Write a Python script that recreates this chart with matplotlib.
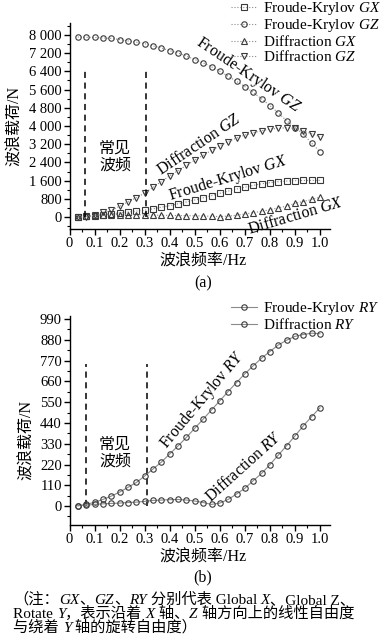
import matplotlib
matplotlib.use("Agg")
import matplotlib.pyplot as plt
from matplotlib.ticker import FixedLocator, MultipleLocator, FixedFormatter

plt.rcParams['font.family'] = ['Liberation Serif', 'Noto Sans CJK SC']
plt.rcParams['mathtext.fontset'] = 'custom'
plt.rcParams['mathtext.rm'] = 'Liberation Serif'
plt.rcParams['mathtext.it'] = 'Liberation Serif:italic'

# ---------------- data ----------------
freq = [0.033, 0.067, 0.100, 0.133, 0.167, 0.200, 0.233, 0.267, 0.300, 0.333,
        0.367, 0.400, 0.433, 0.467, 0.500, 0.533, 0.567, 0.600, 0.633, 0.667,
        0.700, 0.733, 0.767, 0.800, 0.833, 0.867, 0.900, 0.933, 0.967, 1.000]

fk_gx = [0, 30, 60, 100, 140, 180, 220, 260, 300, 360, 430, 500, 580, 660, 750,
         840, 940, 1040, 1140, 1230, 1310, 1390, 1460, 1510, 1550, 1580, 1595, 1605, 1610, 1610]
fk_gz = [7910, 7900, 7890, 7870, 7850, 7800, 7740, 7680, 7620, 7520, 7430, 7310, 7210, 7070, 6920,
         6780, 6600, 6410, 6190, 5960, 5730, 5480, 5190, 4900, 4580, 4230, 3930, 3650, 3240, 2870]
diff_gx = [0, 30, 70, 100, 110, 110, 110, 100, 90, 80, 75, 70, 65, 60, 55,
           45, 30, 20, 40, 80, 130, 190, 250, 320, 400, 480, 600, 680, 770, 870]
diff_gz = [0, 0, 70, 200, 290, 470, 660, 850, 1050, 1300, 1560, 1810, 2040, 2270, 2500,
           2710, 2930, 3130, 3310, 3470, 3600, 3700, 3790, 3860, 3900, 3920, 3900, 3780, 3660, 3530]

fk_ry = [2, 9, 20, 35, 53, 74, 99, 125, 159, 196, 233, 276, 318, 364, 412,
         459, 509, 557, 606, 654, 700, 742, 783, 818, 852, 878, 898, 908, 915, 912]
diff_ry = [2, 5, 9, 12, 14, 16, 19, 21, 25, 30, 32, 34, 35, 32, 27,
           19, 9, 16, 35, 64, 94, 134, 173, 219, 269, 320, 371, 424, 474, 520]

x_ticks = [0, 0.1, 0.2, 0.3, 0.4, 0.5, 0.6, 0.7, 0.8, 0.9, 1.0]
x_labels = ['0', '0.1', '0.2', '0.3', '0.4', '0.5', '0.6', '0.7', '0.8', '0.9', '1.0']
ya_ticks = [0, 800, 1600, 2400, 3200, 4000, 4800, 5600, 6400, 7200, 8000]
ya_labels = ['0', '800', '1 600', '2 400', '3 200', '4 000', '4 800', '5 600', '6 400', '7 200', '8 000']
yb_ticks = [0, 110, 220, 330, 440, 550, 660, 770, 880, 990]
yb_labels = ['0', '110', '220', '330', '440', '550', '660', '770', '880', '990']

band_a = [0.06, 0.305]
band_b = [0.065, 0.31]
band_a_top = 6400
band_b_top = 750

# ---------------- figure ----------------
W, H = 386, 641
fig = plt.figure(figsize=(W / 100, H / 100), dpi=100)

def fx(px):
    return px / W

def fy(py):
    return 1 - py / H

MC = '#3a3a3a'
LC = '#8a8a8a'
FS = 11.5
LFS = 11
TFS = 10.5

ax1 = fig.add_axes([fx(69.5), fy(229), 260.5 / W, 206 / H])
ax2 = fig.add_axes([fx(69.5), fy(525), 260.5 / W, 209 / H])

def style_axes(ax, yt, yl, yminor, ylim):
    ax.set_xlim(0, 1.04)
    ax.set_ylim(*ylim)
    for s in ['top', 'right']:
        ax.spines[s].set_visible(False)
    for s in ['left', 'bottom']:
        ax.spines[s].set_linewidth(1.0)
    ax.xaxis.set_major_locator(FixedLocator(x_ticks))
    ax.xaxis.set_major_formatter(FixedFormatter(x_labels))
    ax.xaxis.set_minor_locator(MultipleLocator(0.05))
    ax.yaxis.set_major_locator(FixedLocator(yt))
    ax.yaxis.set_major_formatter(FixedFormatter(yl))
    ax.yaxis.set_minor_locator(MultipleLocator(yminor))
    ax.tick_params(which='major', direction='out', length=4, width=1, labelsize=TFS, pad=1.5)
    ax.tick_params(which='minor', direction='out', length=2, width=0.8)
    ax.patch.set_alpha(0)

style_axes(ax1, ya_ticks, ya_labels, 400, (-527, 8527))
style_axes(ax2, yb_ticks, yb_labels, 55, (-100, 1006))

mk = dict(markersize=3.9, markeredgewidth=0.8, markerfacecolor='none', markeredgecolor=MC)
l1, = ax1.plot(freq, fk_gx, linestyle=':', color=LC, lw=0.8, marker='s', label='Froude-Krylov $GX$', **mk)
l2, = ax1.plot(freq, fk_gz, linestyle=':', color=LC, lw=0.8, marker='o', label='Froude-Krylov $GZ$', **mk)
l3, = ax1.plot(freq, diff_gx, linestyle=':', color=LC, lw=0.8, marker='^', label='Diffraction $GX$', **mk)
l4, = ax1.plot(freq, diff_gz, linestyle=':', color=LC, lw=0.8, marker='v', label='Diffraction $GZ$', **mk)

for xv in band_a:
    ax1.vlines(xv, 0, band_a_top, colors='black', linestyles=(0, (4, 3)), lw=1.1)
for xv in band_b:
    ax2.vlines(xv, 0, band_b_top, colors='black', linestyles=(0, (4, 3)), lw=1.1)

m1, = ax2.plot(freq, fk_ry, linestyle='-', color=LC, lw=0.8, marker='o', label='Froude-Krylov $RY$', **mk)
m2, = ax2.plot(freq, diff_ry, linestyle='-', color=LC, lw=0.8, marker='o', label='Diffraction $RY$', **mk)

leg_kw = dict(loc='upper left', frameon=False, fontsize=LFS, numpoints=1, handlelength=1.7,
              handletextpad=0.4, labelspacing=0.0, borderpad=0, borderaxespad=0,
              bbox_transform=fig.transFigure)
ax1.legend(handles=[l1, l2, l3, l4], bbox_to_anchor=(fx(231), fy(0)), **leg_kw)
ax2.legend(handles=[m1, m2], bbox_to_anchor=(fx(231), fy(300)), **leg_kw)

# in-plot labels (top)
ax1.text(0.713, 6242, 'Froude-Krylov $GZ$', rotation=-34, ha='center', va='center', fontsize=FS, rotation_mode='anchor')
ax1.text(0.517, 3165, 'Diffraction $GZ$', rotation=34, ha='center', va='center', fontsize=FS, rotation_mode='anchor')
ax1.text(0.633, 1714, 'Froude-Krylov $GX$', rotation=17, ha='center', va='center', fontsize=FS, rotation_mode='anchor')
ax1.text(0.904, 44, 'Diffraction $GX$', rotation=16.5, ha='center', va='center', fontsize=FS, rotation_mode='anchor', clip_on=False)
ax1.text(0.182, 2637, '常见\n波频', ha='center', va='center', fontsize=FS, linespacing=1.1)

# in-plot labels (bottom)
ax2.text(0.533, 561, 'Froude-Krylov $RY$', rotation=50, ha='center', va='center', fontsize=FS, rotation_mode='anchor')
ax2.text(0.697, 206, 'Diffraction $RY$', rotation=42, ha='center', va='center', fontsize=FS, rotation_mode='anchor')
ax2.text(0.182, 280, '常见\n波频', ha='center', va='center', fontsize=FS, linespacing=1.1)

# axis labels and captions
fig.text(fx(15), fy(126), '波浪载荷/N', rotation=90, ha='center', va='center', fontsize=FS)
fig.text(fx(203), fy(262), '波浪频率/Hz', ha='center', va='center', fontsize=FS)
fig.text(fx(203), fy(283), '(a)', ha='center', va='center', fontsize=FS)

fig.text(fx(27), fy(440), '波浪载荷/N', rotation=90, ha='center', va='center', fontsize=FS)
fig.text(fx(203), fy(558), '波浪频率/Hz', ha='center', va='center', fontsize=FS)
fig.text(fx(203), fy(577), '(b)', ha='center', va='center', fontsize=FS)

# footnote with mixed upright / italic runs
note_lines = [
    [('（注：', 0), ('GX', 1), ('、', 0), ('GZ', 1), ('、', 0), ('RY', 1), (' 分别代表 Global ', 0), ('X', 1), ('、Global Z、', 0)],
    [('Rotate ', 0), ('Y', 1), ('，表示沿着 ', 0), ('X', 1), (' 轴、', 0), ('Z', 1), (' 轴方向上的线性自由度', 0)],
    [('与绕着 ', 0), ('Y', 1), (' 轴的旋转自由度）', 0)],
]
note_base = [604, 618, 632]
NFS = 11

renderer = fig.canvas.get_renderer()

def text_width(s, italic):
    kw = dict(fontsize=NFS, style='italic' if italic else 'normal')
    t1 = fig.text(0, 0, '|' + s + '|', **kw)
    t2 = fig.text(0, 0, '||', **kw)
    w = t1.get_window_extent(renderer).width - t2.get_window_extent(renderer).width
    t1.remove()
    t2.remove()
    return w

for line, base in zip(note_lines, note_base):
    xpos = 13.0
    for s, it in line:
        fig.text(fx(xpos), fy(base), s, ha='left', va='baseline', fontsize=NFS,
                 style='italic' if it else 'normal')
        xpos += text_width(s, it)

fig.savefig('out.png', dpi=100)
